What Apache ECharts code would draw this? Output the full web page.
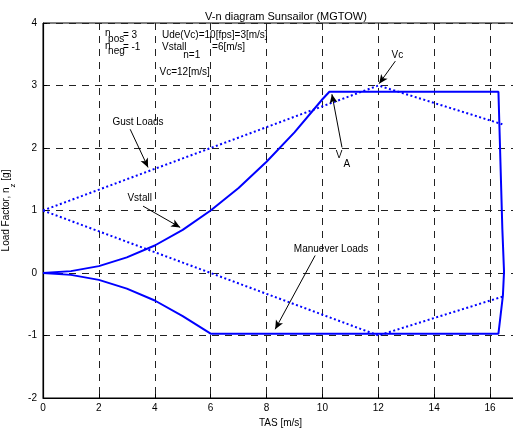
<!DOCTYPE html>
<html><head><meta charset="utf-8">
<script src="https://cdn.jsdelivr.net/npm/echarts@6/dist/echarts.min.js"></script>
<style>html,body{margin:0;padding:0;background:#fff}#c{width:513px;height:430px}</style>
</head><body><div id="c"></div>
<script>
// Maneuver envelope (TAS [m/s], load factor [g])
var envV = [0,1,2,3,4,5,6,7,8,9,10,10.25,16.3,16.44,16.5,16.46,16.3,6,5,4,3,2,1,0];
var envN = [0,0.03,0.11,0.25,0.44,0.69,1.0,1.36,1.78,2.25,2.78,2.9,2.9,0.7,0.02,-0.36,-0.97,-0.97,-0.69,-0.44,-0.25,-0.11,-0.03,0];
// Gust lines
var gustPosV = [0,12,16.44];
var gustPosN = [1,3,2.38];
var gustNegV = [0,12,16.44];
var gustNegN = [1,-1,-0.38];
// Tick labels
var xTicks = [0,2,4,6,8,10,12,14,16];
var yTicks = [-2,-1,0,1,2,3,4];

function pairs(a,b){return a.map(function(v,i){return [v,b[i]];});}

var FONT = 'Liberation Sans, Arial, sans-serif';
var blue = '#0000ff';

// annotation arrows [x1,y1,x2,y2] in data units
var arrows = [
  [3.12,2.30,3.76,1.69],
  [3.58,1.07,4.91,0.73],
  [12.61,3.39,12.03,3.03],
  [10.70,2.01,10.34,2.86],
  [9.74,0.28,8.31,-0.90]
];
// text annotations: [x, y, text, align]
var texts = [
  [3.40,2.41,'Gust Loads','center'],
  [3.46,1.20,'Vstall','center'],
  [12.68,3.48,'Vc','center'],
  [10.60,1.89,'V','center'],
  [10.87,1.74,'A','center'],
  [10.31,0.38,'Manuever Loads','center'],
  [2.22,3.835,'n','left'],
  [2.33,3.74,'pos','left'],
  [2.86,3.80,'= 3','left'],
  [2.22,3.63,'n','left'],
  [2.33,3.55,'neg','left'],
  [2.86,3.61,'= -1','left'],
  [4.26,3.81,'Ude(Vc)=10[fps]=3[m/s]','left'],
  [4.26,3.62,'Vstall','left'],
  [6.05,3.62,'=6[m/s]','left'],
  [5.02,3.49,'n=1','left'],
  [4.17,3.21,'Vc=12[m/s]','left']
];

var chart = echarts.init(document.getElementById('c'), null, {renderer:'canvas'});
chart.setOption({
  animation:false,
  backgroundColor:'#fff',
  title:{text:'V-n diagram Sunsailor (MGTOW)', left:281, top:6, textAlign:'center',
    textStyle:{fontFamily:FONT,fontSize:11,fontWeight:'normal',color:'#000'}},
  grid:{left:43, top:23, width:475, height:375, show:true, borderColor:'#000', borderWidth:1,
    backgroundColor:'#fff', containLabel:false, outerBoundsMode:'none'},
  xAxis:{type:'value', min:0, max:17, interval:2,
    name:'TAS [m/s]', nameLocation:'middle', nameGap:20,
    nameTextStyle:{fontFamily:FONT,fontSize:10,color:'#000'},
    axisLine:{show:true,onZero:false,lineStyle:{color:'#000',width:1.2}},
    axisTick:{show:true,inside:true,length:4,lineStyle:{color:'#000'}},
    axisLabel:{fontFamily:FONT,fontSize:10,color:'#000',margin:5,showMaxLabel:false,
      formatter:function(v){return xTicks.indexOf(v)>=0?String(v):'';}},
    splitLine:{show:true,lineStyle:{color:'#222',width:1,type:[7,6]}}
  },
  yAxis:{type:'value', min:-2, max:4, interval:1,
    name:'Load Factor, n{sub|z} [g]', nameLocation:'middle', nameGap:26,
    nameTextStyle:{fontFamily:FONT,fontSize:10,color:'#000',
      rich:{sub:{fontFamily:FONT,fontSize:8,color:'#000',verticalAlign:'bottom',padding:[0,0,-6,0]}}},
    axisLine:{show:true,onZero:false,lineStyle:{color:'#000',width:1.2}},
    axisTick:{show:true,inside:true,length:4,lineStyle:{color:'#000'}},
    axisLabel:{fontFamily:FONT,fontSize:10,color:'#000',margin:6,
      formatter:function(v){return yTicks.indexOf(v)>=0?String(v):'';}},
    splitLine:{show:true,lineStyle:{color:'#222',width:1,type:[7,6]}}
  },
  series:[
    {type:'line', data:pairs(envV,envN), symbol:'none', smooth:false,
      lineStyle:{color:blue,width:2}, z:3},
    {type:'line', data:pairs(gustPosV,gustPosN), symbol:'none',
      lineStyle:{color:blue,width:2,type:[2,2.5]}, z:2},
    {type:'line', data:pairs(gustNegV,gustNegN), symbol:'none',
      lineStyle:{color:blue,width:2,type:[2,2.5]}, z:2},
    {type:'line', data:[], symbol:'none', z:5,
      markLine:{silent:true, animation:false, symbol:['none','arrow'], symbolSize:[6,9],
        label:{show:false},
        lineStyle:{color:'#000',width:1,type:'solid'},
        data:arrows.map(function(a){return [{coord:[a[0],a[1]]},{coord:[a[2],a[3]]}];})
      },
      markPoint:{silent:true, animation:false, symbol:'circle', symbolSize:0,
        data:texts.map(function(t){return {coord:[t[0],t[1]], value:t[2],
          label:{show:true, position:'inside', formatter:t[2], align:t[3], verticalAlign:'middle',
            fontFamily:FONT, fontSize:10, color:'#000'}};})
      }
    }
  ]
});
</script></body></html>
